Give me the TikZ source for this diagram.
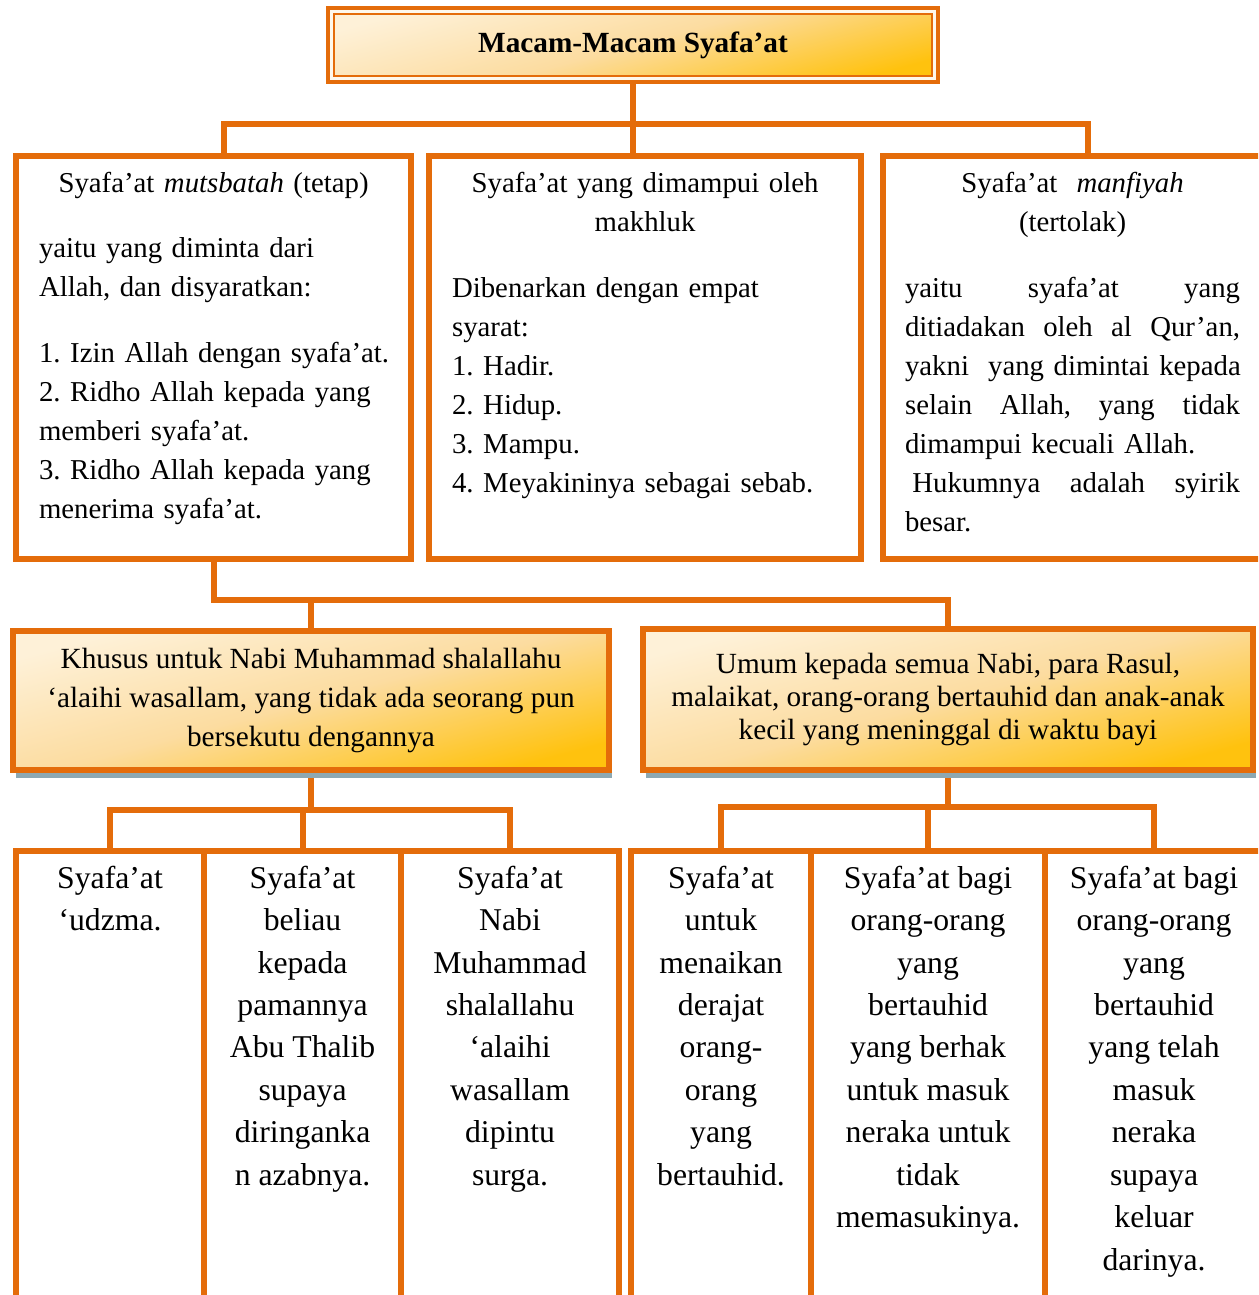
\documentclass[tikz,border=0pt]{standalone}
\usepackage{fontspec}
\setmainfont{Liberation Serif}
\usetikzlibrary{positioning,shadows}
\definecolor{orangex}{HTML}{E46C0A}
\definecolor{creamx}{HTML}{FEF1D8}
\definecolor{peachx}{HTML}{FCDCA0}
\definecolor{goldx}{HTML}{FFC20E}
\definecolor{shadowx}{HTML}{8DA8B2}
\newdimen\pxl \pxl=0.41pt
\frenchspacing
\tikzset{
  wire/.style={orangex,line width=2.5pt},
  cell/.style={draw=orangex,line width=2.5pt,fill=white,anchor=north west,inner sep=0pt},
  glow/.style={draw=orangex,line width=2.8pt,top color=creamx,bottom color=goldx,middle color=peachx,shading angle=15,align=center,inner sep=0pt,font=\fontsize{12}{16}\selectfont},
  shade2/.style={drop shadow={shadow xshift=1.2pt,shadow yshift=-3.3pt,fill=shadowx,opacity=1}},
  txt/.style={anchor=north,inner sep=0pt,align=left,font={\fontsize{11.8}{16}\selectfont\parindent=0pt}},
  tall/.style={anchor=north,inner sep=0pt,align=center,font=\fontsize{13}{17.4}\selectfont}
}
\begin{document}
\begin{tikzpicture}[x=0.41pt,y=-0.41pt]
\useasboundingbox (0,0) rectangle (1258,1295);
\clip (0,0) rectangle (1258,1295);

% title
\node[glow,line width=3.3pt,minimum width=606*\pxl,minimum height=70*\pxl,font=\fontsize{12}{16}\selectfont\bfseries] (title) at (633,45) {\raisebox{-1pt}{Macam-Macam Syafa’at}};
\draw[creamx!50!white,line width=1.2pt] ([shift={(5.5,5.5)}]title.north west) rectangle ([shift={(-5.5,-5.5)}]title.south east);
\draw[orangex,line width=0.8pt] ([shift={(8,8)}]title.north west) rectangle ([shift={(-8,-8)}]title.south east);

% first row
\node[cell,minimum width=395*\pxl,minimum height=403*\pxl] (a) at (13,153) {};
\node[cell,minimum width=432*\pxl,minimum height=403*\pxl] (b) at (426,153) {};
\node[cell,minimum width=379*\pxl,minimum height=403*\pxl] (c) at (880,153) {};

\path (title.south) ++(0,40) coordinate (bus1);
\draw[wire] (title.south) -- (title.south |- b.north);
\draw[wire] ([shift={(10,0)}]a.north) |- (bus1) -| ([shift={(15,0)}]c.north);

\node[txt,text width=362*\pxl] (at) at ([shift={(6.5,12)}]a.north) {%
{\centering\strut\hspace*{-13\pxl}Syafa’at \textit{mutsbatah} (tetap)\par}
\vspace{10.7pt}
yaitu yang diminta dari\\
Allah, dan disyaratkan:\\[10.7pt]
1. Izin Allah dengan syafa’at.\\
2. Ridho Allah kepada yang\\
memberi syafa’at.\\
3. Ridho Allah kepada yang\\
menerima syafa’at.};

\node[txt,text width=386*\pxl] (bt) at ([shift={(0,12)}]b.north) {%
{\centering\strut Syafa’at yang dimampui oleh\\makhluk\par}
\vspace{11pt}
Dibenarkan dengan empat\\
syarat:\\
1. Hadir.\\
2. Hidup.\\
3. Mampu.\\
4. Meyakininya sebagai sebab.};

\node[txt,text width=335*\pxl] (ct) at ([shift={(0,12)}]c.north) {%
{\centering\strut Syafa’at\ \ \textit{manfiyah}\\(tertolak)\par}
\vspace{11pt}
\makebox[335\pxl][s]{yaitu\hfill syafa’at\hfill yang}\\
\makebox[335\pxl][s]{ditiadakan\hfill oleh\hfill al\hfill Qur’an,}\\
\makebox[335\pxl][s]{yakni\ \ yang dimintai kepada}\\
\makebox[335\pxl][s]{selain\hfill Allah,\hfill yang\hfill tidak}\\
dimampui kecuali Allah.\\
\makebox[335\pxl][s]{\hspace*{3pt}Hukumnya\hfill adalah\hfill syirik}\\
besar.};

% second row
\draw[wire] (a.south) -- ++(0,38) coordinate (bus2) -| (948,629);
\draw[wire] (bus2 -| 311,0) -- (311,631);
\draw[wire] (311,770) -- ++(0,40) coordinate (bus3);
\draw[wire] (948,770) -- ++(0,37) coordinate (bus4);

\node[glow,shade2,minimum width=596*\pxl,minimum height=139*\pxl] (d) at (311,700.5) {Khusus untuk Nabi Muhammad shalallahu\\‘alaihi wasallam, yang tidak ada seorang pun\\bersekutu dengannya};
\node[glow,shade2,minimum width=610*\pxl,minimum height=141*\pxl,font=\fontsize{12}{13.5}\selectfont] (e) at (948,699.5) {Umum kepada semua Nabi, para Rasul,\\malaikat, orang-orang bertauhid dan anak-anak\\kecil yang meninggal di waktu bayi};

% third row
\node[cell,minimum width=188*\pxl,minimum height=472*\pxl] (b1) at (13,848) {};
\node[cell,minimum width=197*\pxl,minimum height=472*\pxl] (b2) at (201,848) {};
\node[cell,minimum width=218*\pxl,minimum height=472*\pxl] (b3) at (398,848) {};
\node[cell,minimum width=180*\pxl,minimum height=472*\pxl] (b4) at (628,848) {};
\node[cell,minimum width=234*\pxl,minimum height=472*\pxl] (b5) at (808,848) {};
\node[cell,minimum width=218*\pxl,minimum height=472*\pxl] (b6) at (1042,848) {};

\draw[wire] (b1.north) |- (bus3) -| (b3.north);
\draw[wire] (bus3 -| b2.north) -- (b2.north);
\draw[wire] (b4.north) |- (bus4) -| (b6.north);
\draw[wire] (bus4 -| b5.north) -- (b5.north);

\node[tall] (t1) at ([shift={(0,10)}]b1.north) {\strut Syafa’at\\‘udzma.};
\node[tall] (t2) at ([shift={(0,10)}]b2.north) {\strut Syafa’at\\beliau\\kepada\\pamannya\\Abu Thalib\\supaya\\diringanka\\n azabnya.};
\node[tall] (t3) at ([shift={(0,10)}]b3.north) {\strut Syafa’at\\Nabi\\Muhammad\\shalallahu\\‘alaihi\\wasallam\\dipintu\\surga.};
\node[tall] (t4) at ([shift={(0,10)}]b4.north) {\strut Syafa’at\\untuk\\menaikan\\derajat\\orang-\\orang\\yang\\bertauhid.};
\node[tall] (t5) at ([shift={(0,10)}]b5.north) {\strut Syafa’at bagi\\orang-orang\\yang\\bertauhid\\yang berhak\\untuk masuk\\neraka untuk\\tidak\\memasukinya.};
\node[tall] (t6) at ([shift={(0,10)}]b6.north) {\strut Syafa’at bagi\\orang-orang\\yang\\bertauhid\\yang telah\\masuk\\neraka\\supaya\\keluar\\darinya.};
\end{tikzpicture}
\end{document}
